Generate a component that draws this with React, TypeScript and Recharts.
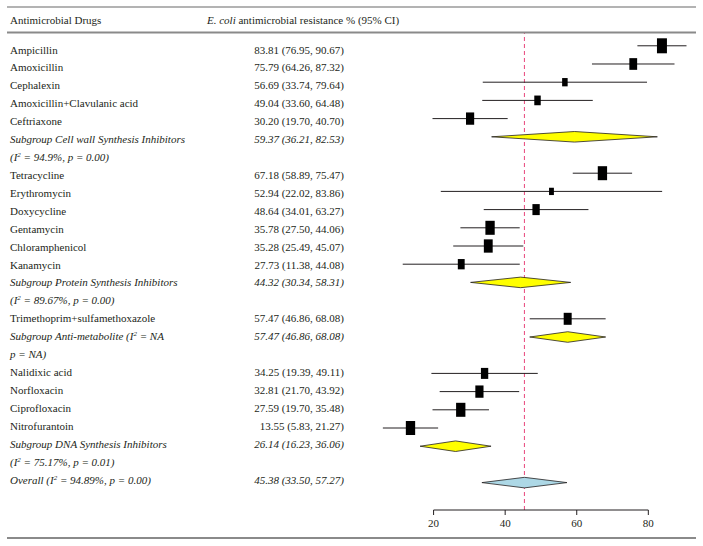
import React from "react";
import { ScatterChart, Scatter, XAxis, YAxis, ErrorBar, ReferenceLine } from "recharts";

const FONT = '"Liberation Serif", "DejaVu Serif", serif';
const INK = "#231f20";

// individual drugs, in table order
const drugs = [
  "Ampicillin",
  "Amoxicillin",
  "Cephalexin",
  "Amoxicillin+Clavulanic acid",
  "Ceftriaxone",
  "Tetracycline",
  "Erythromycin",
  "Doxycycline",
  "Gentamycin",
  "Chloramphenicol",
  "Kanamycin",
  "Trimethoprim+sulfamethoxazole",
  "Nalidixic acid",
  "Norfloxacin",
  "Ciprofloxacin",
  "Nitrofurantoin",
];
const resistance = [83.81, 75.79, 56.69, 49.04, 30.2, 67.18, 52.94, 48.64, 35.78, 35.28, 27.73, 57.47, 34.25, 32.81, 27.59, 13.55];
const lowerCI = [76.95, 64.26, 33.74, 33.6, 19.7, 58.89, 22.02, 34.01, 27.5, 25.49, 11.38, 46.86, 19.39, 21.7, 19.7, 5.83];
const upperCI = [90.67, 87.32, 79.64, 64.48, 40.7, 75.47, 83.86, 63.27, 44.06, 45.07, 44.08, 68.08, 49.11, 43.92, 35.48, 21.27];
// relative study weight (box size)
const boxWeight = [7.5, 5.85, 4.15, 4.85, 6.15, 7.0, 3.65, 5.5, 7.0, 6.65, 5.15, 6.0, 5.5, 6.15, 7.0, 7.0];

// subgroups
const groupNames = [
  "Cell wall Synthesis Inhibitors",
  "Protein Synthesis Inhibitors",
  "Anti-metabolite",
  "DNA Synthesis Inhibitors",
];
const groupSizes = [5, 6, 1, 4];
const groupResistance = [59.37, 44.32, 57.47, 26.14];
const groupLower = [36.21, 30.34, 46.86, 16.23];
const groupUpper = [82.53, 58.31, 68.08, 36.06];
const groupI2 = ["94.9%", "89.67%", "NA", "75.17%"];
const groupP = ["0.00", "0.00", "NA", "0.01"];

const overallResistance = 45.38;
const overallLower = 33.5;
const overallUpper = 57.27;
const overallI2 = "94.89%";
const overallP = "0.00";

const xTicks = [20, 40, 60, 80];

// axis domains (row units) for the marks and the text column
const MARK_DOMAIN: [number, number] = [-0.703, 25.505];
const TEXT_DOMAIN: [number, number] = [-1.144, 25.474];
const DIAMOND_HALF = 0.29;

type Row = {
  label: string;
  ci?: string;
  italic?: boolean;
  kind: "drug" | "group" | "overall" | "text";
  est?: number;
  lo?: number;
  hi?: number;
  weight?: number;
};

const ciText = (e: number, l: number, h: number) =>
  `${e.toFixed(2)} (${l.toFixed(2)}, ${h.toFixed(2)})`;

const rows: Row[] = [];
let d = 0;
groupNames.forEach((name, g) => {
  for (let k = 0; k < groupSizes[g]; k++, d++) {
    rows.push({
      kind: "drug",
      label: drugs[d],
      ci: ciText(resistance[d], lowerCI[d], upperCI[d]),
      est: resistance[d],
      lo: lowerCI[d],
      hi: upperCI[d],
      weight: boxWeight[d],
    });
  }
  const na = groupI2[g] === "NA";
  rows.push({
    kind: "group",
    italic: true,
    label: na ? `Subgroup ${name} (I² = NA` : `Subgroup ${name}`,
    ci: ciText(groupResistance[g], groupLower[g], groupUpper[g]),
    est: groupResistance[g],
    lo: groupLower[g],
    hi: groupUpper[g],
  });
  rows.push({
    kind: "text",
    italic: true,
    label: na ? `p = NA)` : `(I² = ${groupI2[g]}, p = ${groupP[g]})`,
  });
});
rows.push({
  kind: "overall",
  italic: true,
  label: `Overall (I² = ${overallI2}, p = ${overallP})`,
  ci: ciText(overallResistance, overallLower, overallUpper),
  est: overallResistance,
  lo: overallLower,
  hi: overallUpper,
});

const rowTicks = rows.map((_, i) => i);

const squareData = rows
  .map((r, i) => ({ r, i }))
  .filter(({ r }) => r.kind === "drug")
  .map(({ r, i }) => ({
    x: r.est as number,
    y: i,
    err: [(r.est as number) - (r.lo as number), (r.hi as number) - (r.est as number)],
    w: r.weight as number,
  }));

const diamonds = rows
  .map((r, i) => ({ r, i }))
  .filter(({ r }) => r.kind === "group" || r.kind === "overall")
  .map(({ r, i }) => ({
    fill: r.kind === "overall" ? "#add8e6" : "#ffff00",
    points: [
      { x: r.lo as number, y: i },
      { x: r.est as number, y: i - DIAMOND_HALF },
      { x: r.hi as number, y: i },
      { x: r.est as number, y: i + DIAMOND_HALF },
      { x: r.lo as number, y: i },
    ],
  }));

function withSup(text: string) {
  const parts = text.split("I²");
  const out: React.ReactNode[] = [];
  parts.forEach((p, i) => {
    const last = i === parts.length - 1;
    out.push(
      <tspan key={"t" + i} dy={i === 0 ? 0 : 4}>
        {p + (last ? "" : "I")}
      </tspan>
    );
    if (!last)
      out.push(
        <tspan key={"s" + i} dy={-4} fontSize={7}>
          2
        </tspan>
      );
  });
  return out;
}

function RowLabel(props: any) {
  const { y, payload } = props;
  const row = rows[payload.value];
  if (!row) return null;
  const style = row.italic ? "italic" : "normal";
  return (
    <g>
      <text x={10} y={y} fontSize={11} fontFamily={FONT} fontStyle={style} fill={INK}>
        {withSup(row.label)}
      </text>
      {row.ci && (
        <text x={344} y={y} fontSize={11} fontFamily={FONT} fontStyle={style} fill={INK} textAnchor="end">
          {row.ci}
        </text>
      )}
    </g>
  );
}

function Box(props: any) {
  const { cx, cy, payload } = props;
  const h = payload.w * 2;
  const w = payload.w * 1.33;
  return <rect x={cx - w / 2} y={cy - h / 2} width={w} height={h} fill="#000" />;
}

const NoDot = () => null;

export default function App() {
  return (
    <div style={{ position: "absolute", left: 0, top: 0, width: 703, height: 546, background: "#fff" }}>
      <ScatterChart width={703} height={546} margin={{ top: 33, right: 1, bottom: 0, left: 0 }}>
        <XAxis
          type="number"
          dataKey="x"
          domain={[0, 95]}
          ticks={xTicks}
          interval={0}
          axisLine={false}
          tickLine={{ stroke: INK }}
          tickSize={5}
          tickMargin={4}
          height={36}
          tick={{ fontSize: 11, fill: INK, fontFamily: FONT }}
        />
        <YAxis yAxisId="marks" type="number" dataKey="y" domain={MARK_DOMAIN} reversed hide />
        <YAxis
          yAxisId="text"
          type="number"
          domain={TEXT_DOMAIN}
          allowDataOverflow
          reversed
          ticks={rowTicks}
          interval={0}
          width={362}
          axisLine={false}
          tickLine={false}
          tickSize={0}
          tickMargin={0}
          tick={(p: any) => <RowLabel {...p} />}
        />
        <ReferenceLine
          yAxisId="marks"
          x={overallResistance}
          stroke="#e8467c"
          strokeDasharray="4 3"
          strokeWidth={1}
        />
        <ReferenceLine
          yAxisId="marks"
          segment={[
            { x: xTicks[0], y: MARK_DOMAIN[1] },
            { x: xTicks[xTicks.length - 1], y: MARK_DOMAIN[1] },
          ]}
          stroke={INK}
          ifOverflow="visible"
        />
        <Scatter yAxisId="marks" data={squareData} isAnimationActive={false} shape={Box}>
          <ErrorBar dataKey="err" direction="x" width={0} stroke={INK} strokeWidth={1} isAnimationActive={false} />
        </Scatter>
        {diamonds.map((dm, i) => (
          <Scatter
            key={i}
            yAxisId="marks"
            data={dm.points}
            isAnimationActive={false}
            shape={NoDot}
            line={{ fill: dm.fill, stroke: INK, strokeWidth: 0.8 }}
            lineJointType="linear"
          />
        ))}
      </ScatterChart>
      <svg
        width={703}
        height={546}
        style={{ position: "absolute", left: 0, top: 0, pointerEvents: "none" }}
      >
        <line x1={7} x2={696} y1={7} y2={7} stroke="#9a9a9a" strokeWidth={1.5} />
        <line x1={7} x2={696} y1={32.5} y2={32.5} stroke="#8a8a8a" strokeWidth={2} />
        <line x1={7} x2={696} y1={538} y2={538} stroke="#8a8a8a" strokeWidth={2} />
        <text x={10} y={24} fontSize={11} fontFamily={FONT} fill={INK}>
          Antimicrobial Drugs
        </text>
        <text x={207} y={24} fontSize={11} fontFamily={FONT} fill={INK}>
          <tspan fontStyle="italic">E. coli</tspan> antimicrobial resistance % (95% CI)
        </text>
      </svg>
    </div>
  );
}
